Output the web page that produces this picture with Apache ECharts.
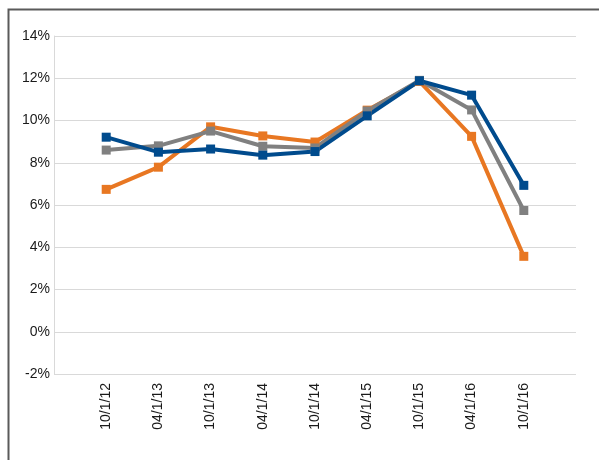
<!DOCTYPE html>
<html>
<head>
<meta charset="utf-8">
<script src="https://cdn.jsdelivr.net/npm/echarts@6/dist/echarts.min.js"></script>
<style>
html,body{margin:0;padding:0;background:#fff;}
#c{width:599px;height:460px;}
</style>
</head>
<body>
<div id="c"></div>
<script>
const categories = ['10/1/12','04/1/13','10/1/13','04/1/14','10/1/14','04/1/15','10/1/15','04/1/16','10/1/16'];
const orangeValues = [6.74, 7.79, 9.70, 9.27, 8.98, 10.49, 11.85, 9.25, 3.57];
const grayValues   = [8.60, 8.80, 9.50, 8.78, 8.70, 10.45, 11.90, 10.50, 5.74];
const blueValues   = [9.21, 8.50, 8.65, 8.36, 8.53, 10.22, 11.88, 11.20, 6.93];
const yTicks = {min: -2, max: 14, interval: 2};

const pad = arr => [null].concat(arr, [null]);
const cats = [''].concat(categories, ['']);

const chart = echarts.init(document.getElementById('c'), null, {renderer: 'canvas'});
const mk = (name, data, color) => ({
  name, type: 'line', data: pad(data),
  symbol: 'rect', symbolSize: 9,
  lineStyle: {color, width: 4},
  itemStyle: {color},
  animation: false
});
chart.setOption({
  animation: false,
  grid: {left: 54, right: 23, top: 36, bottom: 86, containLabel: false},
  graphic: [{
    type: 'rect', left: 6, top: 7, shape: {x: 0, y: 0, width: 700, height: 600},
    style: {fill: 'none', stroke: '#5a5a5a', lineWidth: 2}, silent: true
  }],
  xAxis: {
    type: 'category', data: cats, boundaryGap: false,
    axisLine: {show: false}, axisTick: {show: false},
    splitLine: {show: false},
    axisLabel: {rotate: 90, interval: 0, margin: 9, fontSize: 14,
      fontFamily: 'Liberation Sans, Arial, sans-serif', color: '#1a1a1a'}
  },
  yAxis: {
    type: 'value', min: yTicks.min, max: yTicks.max, interval: yTicks.interval,
    axisLine: {show: true, lineStyle: {color: '#d9d9d9', width: 1}},
    axisTick: {show: false},
    splitLine: {show: true, lineStyle: {color: '#d9d9d9', width: 1}},
    axisLabel: {formatter: '{value}%', margin: 4, fontSize: 14,
      fontFamily: 'Liberation Sans, Arial, sans-serif', color: '#1a1a1a'}
  },
  series: [
    mk('Orange', orangeValues, '#E87722'),
    mk('Gray', grayValues, '#808080'),
    mk('Blue', blueValues, '#004B8D')
  ]
});
</script>
</body>
</html>
